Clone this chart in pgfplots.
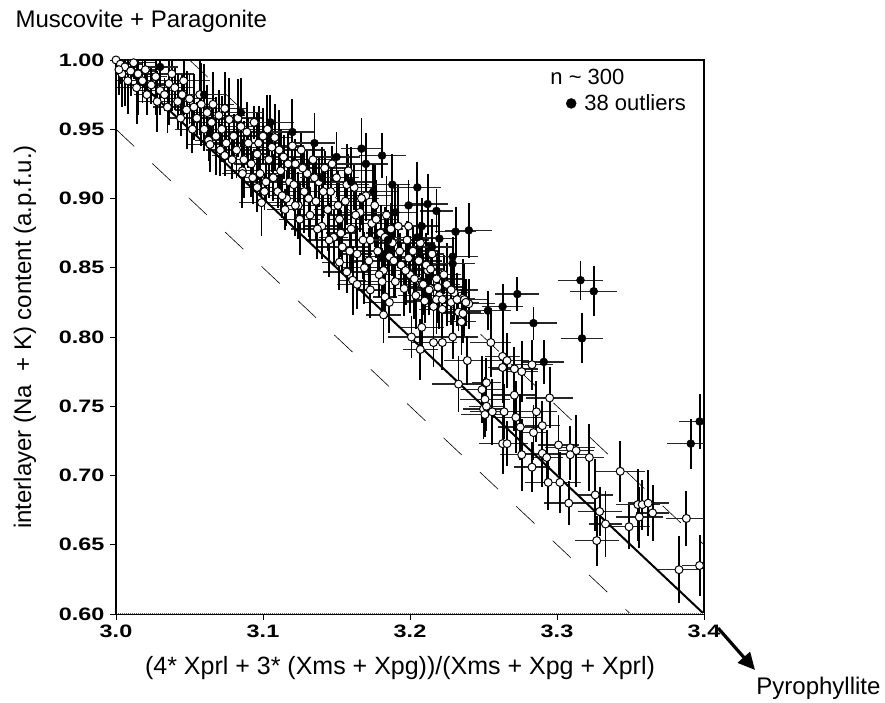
\documentclass[border=0pt]{standalone}
\usepackage{fontspec}
\setmainfont{Liberation Sans}
\newfontfamily\tickfont[FakeStretch=1.3]{Liberation Sans}
\usepackage{pgfplots}
\pgfplotsset{compat=1.18}
\usepackage{pgfplotstable}
\usetikzlibrary{arrows.meta}

\pgfplotstableread{
x y ex ey
3.000 1.000 0.010 0.020
3.003 0.997 0.015 0.014
3.006 0.995 0.008 0.028
3.010 0.992 0.018 0.018
3.004 0.990 0.012 0.024
3.012 0.998 0.016 0.012
3.015 0.990 0.009 0.030
3.018 0.985 0.014 0.016
3.020 0.993 0.010 0.020
3.024 0.982 0.015 0.014
3.027 0.988 0.008 0.028
3.030 0.978 0.018 0.018
3.008 0.985 0.012 0.024
3.033 0.975 0.016 0.012
3.036 0.983 0.009 0.030
3.040 0.980 0.014 0.016
3.042 0.970 0.010 0.020
3.045 0.975 0.015 0.014
3.048 0.964 0.008 0.028
3.050 0.972 0.018 0.018
3.053 0.966 0.012 0.024
3.055 0.958 0.016 0.012
3.058 0.968 0.009 0.030
3.060 0.950 0.014 0.016
3.062 0.962 0.010 0.020
3.065 0.955 0.015 0.014
3.068 0.945 0.008 0.028
3.070 0.960 0.018 0.018
3.072 0.950 0.012 0.024
3.075 0.940 0.016 0.012
3.077 0.957 0.009 0.030
3.080 0.945 0.014 0.016
3.082 0.935 0.010 0.020
3.085 0.952 0.015 0.014
3.087 0.928 0.008 0.028
3.090 0.940 0.018 0.018
3.092 0.925 0.012 0.024
3.094 0.955 0.016 0.012
3.096 0.932 0.009 0.030
3.098 0.918 0.014 0.016
3.100 0.945 0.010 0.020
3.102 0.912 0.015 0.014
3.104 0.928 0.008 0.028
3.106 0.937 0.018 0.018
3.108 0.944 0.012 0.024
3.110 0.905 0.016 0.012
3.112 0.920 0.009 0.030
3.114 0.930 0.014 0.016
3.116 0.900 0.010 0.020
3.118 0.912 0.015 0.014
3.120 0.938 0.008 0.028
3.122 0.925 0.018 0.018
3.124 0.895 0.012 0.024
3.126 0.935 0.016 0.012
3.128 0.905 0.009 0.030
3.130 0.918 0.014 0.016
3.132 0.888 0.010 0.020
3.134 0.928 0.015 0.014
3.136 0.898 0.008 0.028
3.138 0.912 0.018 0.018
3.140 0.880 0.012 0.024
3.142 0.922 0.016 0.012
3.144 0.892 0.009 0.030
3.146 0.905 0.014 0.016
3.148 0.872 0.010 0.020
3.150 0.915 0.015 0.014
3.152 0.885 0.008 0.028
3.154 0.865 0.018 0.018
3.156 0.898 0.012 0.024
3.158 0.920 0.016 0.012
3.160 0.878 0.009 0.030
3.162 0.908 0.014 0.016
3.164 0.860 0.010 0.020
3.166 0.890 0.015 0.014
3.168 0.870 0.008 0.028
3.170 0.902 0.018 0.018
3.172 0.855 0.012 0.024
3.174 0.882 0.016 0.012
3.176 0.895 0.009 0.030
3.178 0.862 0.014 0.016
3.180 0.875 0.010 0.020
3.182 0.848 0.015 0.014
3.184 0.888 0.008 0.028
3.186 0.858 0.018 0.018
3.188 0.868 0.012 0.024
3.190 0.840 0.016 0.012
3.192 0.880 0.009 0.030
3.194 0.852 0.014 0.016
3.196 0.835 0.010 0.020
3.198 0.870 0.015 0.014
3.200 0.845 0.008 0.028
3.202 0.862 0.018 0.018
3.204 0.830 0.012 0.024
3.206 0.855 0.016 0.012
3.208 0.838 0.009 0.030
3.210 0.826 0.014 0.016
3.212 0.848 0.010 0.020
3.214 0.835 0.015 0.014
3.216 0.822 0.008 0.028
3.218 0.842 0.018 0.018
3.220 0.830 0.012 0.024
3.222 0.820 0.016 0.012
3.225 0.838 0.009 0.030
3.228 0.825 0.014 0.016
3.230 0.832 0.010 0.020
3.233 0.818 0.015 0.014
3.236 0.828 0.008 0.028
3.240 0.824 0.018 0.018
3.002 0.993 0.012 0.018
3.014 0.980 0.016 0.026
3.021 0.975 0.009 0.015
3.028 0.970 0.014 0.022
3.035 0.966 0.010 0.019
3.038 0.990 0.015 0.027
3.044 0.958 0.008 0.013
3.046 0.985 0.018 0.025
3.052 0.950 0.012 0.017
3.057 0.975 0.016 0.029
3.063 0.942 0.009 0.015
3.066 0.968 0.014 0.023
3.071 0.935 0.010 0.019
3.074 0.965 0.015 0.026
3.079 0.928 0.008 0.014
3.083 0.958 0.018 0.028
3.086 0.920 0.012 0.016
3.089 0.948 0.016 0.022
3.093 0.915 0.009 0.019
3.097 0.940 0.014 0.027
3.101 0.905 0.010 0.013
3.103 0.950 0.015 0.025
3.107 0.915 0.008 0.017
3.111 0.935 0.018 0.029
3.115 0.892 0.012 0.015
3.117 0.925 0.016 0.023
3.121 0.910 0.009 0.019
3.125 0.885 0.014 0.026
3.127 0.922 0.010 0.014
3.131 0.900 0.015 0.028
3.135 0.915 0.008 0.016
3.137 0.878 0.018 0.022
3.141 0.905 0.012 0.019
3.145 0.870 0.016 0.027
3.147 0.925 0.009 0.013
3.151 0.895 0.014 0.025
3.153 0.875 0.010 0.017
3.157 0.910 0.015 0.029
3.159 0.862 0.008 0.015
3.163 0.888 0.018 0.023
3.167 0.900 0.012 0.019
3.169 0.850 0.016 0.026
3.173 0.870 0.009 0.014
3.177 0.885 0.014 0.028
3.179 0.845 0.010 0.016
3.183 0.872 0.015 0.022
3.187 0.878 0.008 0.019
3.189 0.855 0.018 0.027
3.193 0.862 0.012 0.013
3.197 0.848 0.016 0.025
3.199 0.880 0.009 0.017
3.203 0.842 0.014 0.029
3.207 0.868 0.010 0.015
3.211 0.852 0.015 0.023
3.215 0.860 0.008 0.019
3.219 0.836 0.018 0.026
3.223 0.845 0.012 0.014
3.064 0.939 0.016 0.020
3.074 0.931 0.009 0.015
3.086 0.918 0.014 0.025
3.096 0.908 0.010 0.018
3.099 0.897 0.015 0.024
3.113 0.902 0.008 0.016
3.122 0.895 0.018 0.022
3.152 0.854 0.012 0.020
3.157 0.847 0.016 0.015
3.161 0.841 0.009 0.025
3.164 0.838 0.014 0.018
3.173 0.834 0.010 0.020
3.181 0.840 0.015 0.024
3.183 0.829 0.008 0.016
3.186 0.825 0.018 0.022
3.182 0.816 0.012 0.020
3.199 0.857 0.016 0.026
3.214 0.849 0.009 0.015
3.209 0.838 0.014 0.022
3.213 0.834 0.010 0.018
3.218 0.827 0.015 0.025
3.222 0.827 0.008 0.016
3.228 0.834 0.018 0.023
3.232 0.827 0.012 0.019
3.237 0.827 0.016 0.026
3.238 0.825 0.009 0.017
3.236 0.817 0.014 0.021
3.235 0.811 0.010 0.024
3.208 0.807 0.015 0.018
3.201 0.800 0.016 0.015
3.207 0.791 0.012 0.022
3.216 0.796 0.015 0.018
3.222 0.796 0.010 0.020
3.229 0.800 0.017 0.016
3.255 0.796 0.014 0.025
3.239 0.783 0.016 0.018
3.263 0.786 0.012 0.024
3.266 0.783 0.015 0.020
3.263 0.778 0.010 0.026
3.271 0.777 0.016 0.016
3.276 0.775 0.011 0.022
3.283 0.780 0.014 0.018
3.233 0.766 0.018 0.020
3.249 0.762 0.014 0.024
3.252 0.767 0.010 0.018
3.271 0.758 0.015 0.026
3.295 0.756 0.016 0.022
3.251 0.755 0.017 0.016
3.250 0.748 0.014 0.022
3.252 0.750 0.012 0.018
3.256 0.746 0.015 0.024
3.264 0.746 0.011 0.020
3.251 0.744 0.016 0.016
3.286 0.746 0.014 0.022
3.272 0.742 0.017 0.026
3.290 0.736 0.012 0.018
3.275 0.735 0.015 0.024
3.284 0.731 0.010 0.020
3.263 0.723 0.016 0.022
3.266 0.723 0.014 0.016
3.276 0.715 0.015 0.026
3.283 0.706 0.012 0.018
3.290 0.716 0.016 0.024
3.293 0.713 0.011 0.020
3.301 0.722 0.014 0.022
3.309 0.720 0.017 0.016
3.313 0.718 0.012 0.026
3.309 0.715 0.015 0.018
3.322 0.713 0.010 0.024
3.294 0.695 0.016 0.020
3.302 0.695 0.014 0.022
3.308 0.680 0.017 0.016
3.326 0.686 0.012 0.026
3.329 0.674 0.015 0.018
3.333 0.665 0.011 0.024
3.327 0.653 0.015 0.018
3.343 0.703 0.017 0.022
3.349 0.663 0.014 0.016
3.355 0.679 0.015 0.026
3.358 0.679 0.012 0.018
3.362 0.680 0.014 0.024
3.365 0.673 0.011 0.020
3.356 0.670 0.016 0.022
3.388 0.669 0.014 0.020
3.383 0.632 0.015 0.024
3.397 0.635 0.012 0.022
}\opendata

\pgfplotstableread{
x y ex ey
3.167 0.936 0.014 0.022
3.181 0.931 0.016 0.016
3.188 0.910 0.012 0.022
3.205 0.908 0.016 0.018
3.212 0.896 0.014 0.022
3.218 0.891 0.011 0.016
3.231 0.876 0.014 0.018
3.240 0.877 0.016 0.020
3.220 0.871 0.012 0.020
3.229 0.858 0.017 0.014
3.229 0.853 0.015 0.016
3.316 0.841 0.015 0.014
3.325 0.833 0.016 0.018
3.273 0.831 0.015 0.012
3.263 0.822 0.014 0.016
3.253 0.819 0.016 0.014
3.284 0.810 0.016 0.012
3.317 0.799 0.014 0.018
3.291 0.782 0.014 0.016
3.397 0.739 0.014 0.020
3.391 0.723 0.016 0.018
3.199 0.895 0.014 0.018
3.208 0.880 0.012 0.020
3.030 0.995 0.012 0.020
3.060 0.975 0.014 0.022
3.085 0.962 0.015 0.025
3.105 0.955 0.016 0.020
3.120 0.948 0.015 0.024
3.135 0.940 0.014 0.022
3.150 0.930 0.016 0.018
3.140 0.915 0.015 0.022
3.160 0.912 0.014 0.025
3.175 0.905 0.016 0.020
3.190 0.890 0.015 0.018
3.185 0.870 0.014 0.022
3.205 0.872 0.016 0.020
3.170 0.925 0.015 0.022
3.215 0.865 0.014 0.020
}\filldata

\begin{document}
\begin{tikzpicture}
\begin{axis}[
  scale only axis, width=588pt, height=554pt,
  xmin=3.0, xmax=3.4, ymin=0.6, ymax=1.0,
  xtick={3.0,3.1,3.2,3.3,3.4},
  ytick={0.60,0.65,0.70,0.75,0.80,0.85,0.90,0.95,1.00},
  xtick pos=left, ytick pos=left,
  tick align=outside, major tick length=6pt,
  tick style={black, line width=0.9pt},
  axis line style={black, line width=1.3pt},
  /pgf/number format/assume math mode=true,
  xticklabel style={/pgf/number format/fixed, /pgf/number format/fixed zerofill, /pgf/number format/precision=1, yshift=-1pt},
  yticklabel style={/pgf/number format/fixed, /pgf/number format/fixed zerofill, /pgf/number format/precision=2, xshift=-2pt},
  tick label style={font=\tickfont\bfseries\fontsize{18}{18}\selectfont},
  legend style={at={(rel axis cs:0.973,0.988)}, anchor=north east, draw=none, fill=none,
    font=\fontsize{22}{26}\selectfont, row sep=5pt, inner sep=0pt},
  legend cell align=left,
]
\addplot[forget plot, black, line width=0.6pt, dash pattern=on 25pt off 25pt] coordinates {(3.05,1.0) (3.4,0.65)};
\addplot[forget plot, black, line width=0.6pt, dash pattern=on 25pt off 25pt] coordinates {(3.0,0.95) (3.35,0.60)};
\addplot[forget plot, only marks, mark=none,
  error bars/.cd, x dir=both, x explicit, error mark=none,
  error bar style={black!85, line width=1.4pt}]
  table[x=x, y=y, x error=ex] {\opendata};
\addplot[forget plot, only marks, mark=none,
  error bars/.cd, y dir=both, y explicit, error mark=none,
  error bar style={black, line width=1.9pt}]
  table[x=x, y=y, y error=ey] {\opendata};
\addplot[forget plot, only marks, mark=none,
  error bars/.cd, x dir=both, x explicit, error mark=none,
  error bar style={black!85, line width=1.4pt}]
  table[x=x, y=y, x error=ex] {\filldata};
\addplot[forget plot, only marks, mark=none,
  error bars/.cd, y dir=both, y explicit, error mark=none,
  error bar style={black, line width=1.9pt}]
  table[x=x, y=y, y error=ey] {\filldata};
\addplot[forget plot, black, line width=2pt] coordinates {(3.0,1.0) (3.4,0.6)};
\addplot[forget plot, only marks, mark=*, mark size=4pt,
  mark options={fill=white, draw=black, line width=1pt}]
  table[x=x, y=y] {\opendata};
\addlegendimage{empty legend}
\addlegendentry{\hspace*{-28pt}n \textasciitilde\ 300}
\addplot[only marks, mark=*, mark size=4pt, mark options={fill=black, draw=black},
  legend image code/.code={\fill[black] (0cm,0cm) circle (5pt);}]
  table[x=x, y=y] {\filldata};
\addlegendentry{\hspace*{6pt}38 outliers}
\draw[white, line width=1.6pt] (rel axis cs:0,0) -- (rel axis cs:1,0);
\draw[black!60, line width=1pt, dash pattern=on 1pt off 1pt] (rel axis cs:0,0) -- (rel axis cs:1,0);
\draw[line width=2.4pt] (rel axis cs:0,0) -- (rel axis cs:0,1);
\end{axis}
\node[anchor=west, font=\fontsize{24}{28}\selectfont] at (-104pt,593pt) {Muscovite + Paragonite};
\node[rotate=90, font=\fontsize{24}{28}\selectfont] at (-91pt,277pt) {interlayer (Na\ \ + K) content (a.p.f.u.)};
\node[font=\fontsize{25}{29}\selectfont] at (284pt,-54pt) {(4* Xprl + 3* (Xms + Xpg))/(Xms + Xpg + Xprl)};
\node[anchor=east, font=\fontsize{24}{28}\selectfont] at (768pt,-74pt) {Pyrophyllite};
\draw[-{Triangle[length=17pt,width=16pt]}, line width=3.2pt] (602pt,-14pt) -- (639pt,-56pt);
\path (-116pt,-89pt) rectangle (769pt,614pt);
\end{tikzpicture}
\end{document}
